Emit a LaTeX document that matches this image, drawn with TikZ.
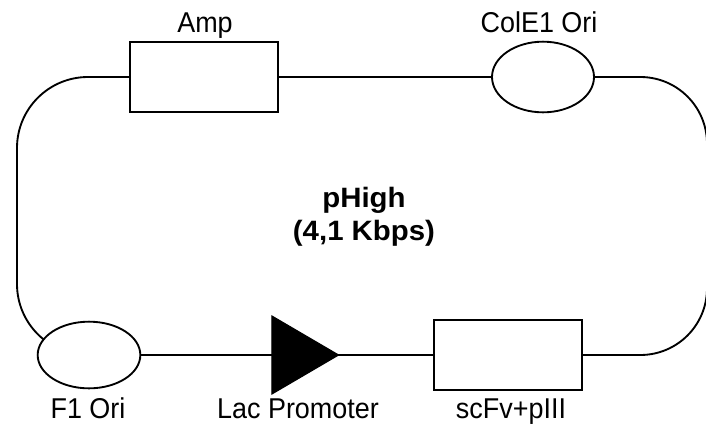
\documentclass[tikz,border=0pt]{standalone}
\usepackage{fontspec}
\setmainfont{Liberation Sans}
\usetikzlibrary{shapes.geometric,backgrounds}

\begin{document}
\begin{tikzpicture}[x=0.75pt,y=-0.75pt,
  gene/.style={draw, line width=1.4pt, fill=white, rectangle, minimum width=111pt, minimum height=52pt, inner sep=0pt},
  ori/.style={draw, line width=1.4pt, fill=white, ellipse, inner sep=0pt},
  promoter/.style={isosceles triangle, isosceles triangle stretches, fill=black, draw, line width=0.8pt, inner sep=0pt, minimum width=58.5pt, minimum height=50pt},
  dorsale/.style={line width=1.4pt},
  etichetta/.style={font=\fontsize{21.5}{25}\selectfont\addfontfeatures{FakeStretch=0.94}, anchor=base},
  titolo/.style={font=\fontsize{21}{25}\selectfont\bfseries\addfontfeatures{FakeStretch=1.05}, anchor=base}]

\useasboundingbox (0,0) rectangle (706,425);

% Elementi del plasmide
\node[gene] (amp) at (204,77) {};
\node[ori, minimum width=76.5pt, minimum height=53pt] (cole) at (543,77) {};
\node[ori, minimum width=77pt, minimum height=50pt] (f1) at (89,355) {};
\node[promoter, anchor=apex] (lac) at (340,355) {};
\node[gene] (scfv) at (508,355) {};

% Angoli del percorso
\coordinate (ne) at (707,77);
\coordinate (se) at (707,355);
\coordinate (sw) at (17,355);
\coordinate (nw) at (17,77);

% Dorsale (sotto gli elementi)
\begin{scope}[on background layer]
\draw[dorsale] (amp) -- (cole);
\draw[dorsale, rounded corners=50pt] (cole.center) -- (ne) -- (se) -- (scfv.center);
\draw[dorsale] (scfv) -- (lac.center) -- (f1);
\draw[dorsale, rounded corners=53.25pt] (f1.center) -- (sw) -- (nw) -- (amp.center);
\end{scope}

% Etichette
\node[etichetta] (tamp) at (205,32) {Amp};
\node[etichetta] (tcole) at (539,32) {ColE1 Ori};
\node[etichetta] (tf1) at (88,418) {F1 Ori};
\node[etichetta] (tlac) at (298,418) {Lac Promoter};
\node[etichetta] (tscfv) at (511,418) {scFv+pIII};

% Nome e dimensione
\node[titolo] (nome) at (364,207) {pHigh};
\node[titolo] (dim) at (364,240) {(4,1 Kbps)};

\end{tikzpicture}
\end{document}
